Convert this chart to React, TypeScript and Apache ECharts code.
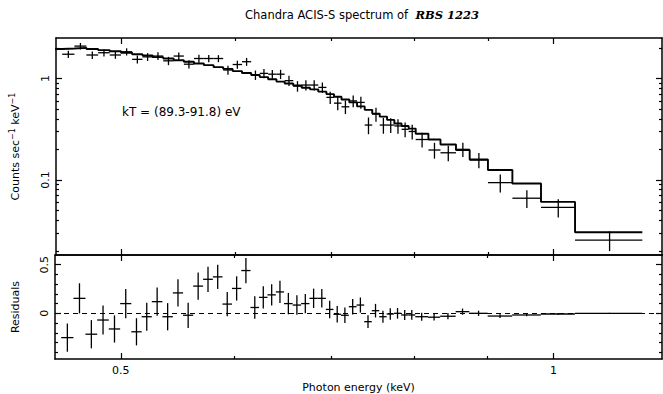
import React, { useEffect, useRef } from "react";
import * as echarts from "echarts";

// ---- data ----
const binEdges = [
  0.4545, 0.4635, 0.4725, 0.4815, 0.4905, 0.4995, 0.5085, 0.517, 0.5255, 0.5345,
  0.5435, 0.5525, 0.5615, 0.5705, 0.5795, 0.5885, 0.5975, 0.6065, 0.6155, 0.624,
  0.6325, 0.641, 0.6495, 0.6585, 0.6675, 0.6765, 0.6855, 0.6945, 0.703, 0.7115,
  0.7205, 0.7295, 0.7385, 0.7475, 0.7565, 0.7655, 0.7745, 0.7835, 0.7925, 0.8015,
  0.818, 0.834, 0.855, 0.874, 0.9, 0.936, 0.98, 1.035, 1.153,
];
const countsData = [
  1.73, 2.08, 1.7, 1.79, 1.7, 1.83, 1.54, 1.63, 1.66, 1.49,
  1.66, 1.38, 1.57, 1.57, 1.57, 1.21, 1.37, 1.46, 1.08, 1.12,
  1.1, 1.1, 0.95, 0.84, 0.86, 0.86, 0.815, 0.65, 0.57, 0.525,
  0.6, 0.58, 0.347, 0.445, 0.347, 0.347, 0.34, 0.315, 0.3, 0.25,
  0.197, 0.185, 0.2, 0.157, 0.094, 0.066, 0.0536, 0.0255,
];
const countsErr = [
  0.145, 0.155, 0.145, 0.15, 0.14, 0.15, 0.14, 0.145, 0.145, 0.14,
  0.14, 0.13, 0.14, 0.13, 0.125, 0.125, 0.125, 0.13, 0.115, 0.115,
  0.11, 0.115, 0.11, 0.1, 0.1, 0.1, 0.095, 0.09, 0.085, 0.08,
  0.08, 0.078, 0.065, 0.07, 0.062, 0.058, 0.055, 0.052, 0.05, 0.042,
  0.035, 0.032, 0.032, 0.027, 0.019, 0.013, 0.011, 0.0056,
];
const modelCounts = [
  1.97, 2.0, 1.95, 1.9, 1.85, 1.79, 1.73, 1.68, 1.62, 1.57,
  1.51, 1.46, 1.4, 1.35, 1.29, 1.24, 1.18, 1.13, 1.08, 1.03,
  0.98, 0.93, 0.89, 0.85, 0.81, 0.78, 0.74, 0.7, 0.66, 0.62,
  0.58, 0.53, 0.49, 0.45, 0.42, 0.39, 0.36, 0.34, 0.32, 0.285,
  0.25, 0.223, 0.197, 0.159, 0.125, 0.092, 0.0607, 0.0305,
];
const modelLeadIn = [0.4455, 1.95];
const residuals = [
  -0.25, 0.154, -0.215, -0.069, -0.161, 0.1, -0.19, -0.035, 0.12, -0.035,
  0.21, -0.02, 0.28, 0.35, 0.375, 0.095, 0.256, 0.44, 0.06, 0.164,
  0.19, 0.22, 0.1, 0.085, 0.1, 0.154, 0.154, 0.04, -0.01, -0.02,
  0.068, 0.085, -0.086, 0.027, -0.035, -0.007, 0.0, -0.017, -0.017, -0.035,
  -0.04, -0.03, 0.017, 0.0, -0.028, -0.017, -0.007, 0.0,
];

const xMajorTicks = [0.5, 1];
const xMinorTicks = [0.6, 0.7, 0.8, 0.9];
const countMajorTicks = [0.1, 1];
const countMinorTicks = [0.02, 0.03, 0.04, 0.05, 0.06, 0.07, 0.08, 0.09, 0.2, 0.3, 0.4, 0.5, 0.6, 0.7, 0.8, 0.9, 2];
const residMajorTicks = [0, 0.5];
const residMinorTicks = [-0.4, -0.3, -0.2, -0.1, 0.1, 0.2, 0.3, 0.4];

const energyRange = [0.45, 1.19];
const countRange = [0.0182, 2.5];
const residRange = [-0.47, 0.6];

const FONT = '"DejaVu Sans", "Liberation Sans", Arial, sans-serif';
const MAJOR = 6;
const MINOR = 3;

const fmt = (v: number) => String(+(+v).toFixed(3));

function xAxisDef(gridIndex: number, position: string, ticks: number[], len: number, line: boolean, extra: any = {}) {
  return {
    type: "log",
    logBase: 10,
    gridIndex,
    position,
    min: energyRange[0],
    max: energyRange[1],
    axisLine: { show: line, onZero: false, lineStyle: { color: "#000", width: 1.5 } },
    axisTick: { show: true, inside: true, length: len, customValues: ticks, lineStyle: { color: "#000", width: 1.2 } },
    axisLabel: { show: false },
    splitLine: { show: false },
    minorTick: { show: false },
    minorSplitLine: { show: false },
    ...extra,
  };
}

function yAxisDef(type: string, gridIndex: number, position: string, range: number[], ticks: number[], len: number, line: boolean, extra: any = {}) {
  const base: any = {
    type,
    gridIndex,
    position,
    min: range[0],
    max: range[1],
    axisLine: { show: line, onZero: false, lineStyle: { color: "#000", width: 1.5 } },
    axisTick: { show: true, inside: true, length: len, customValues: ticks, lineStyle: { color: "#000", width: 1.2 } },
    axisLabel: { show: false },
    splitLine: { show: false },
    minorTick: { show: false },
    minorSplitLine: { show: false },
    ...extra,
  };
  if (type === "log") base.logBase = 10;
  return base;
}

function crossRenderer(params: any, api: any) {
  const lo = api.value(0);
  const hi = api.value(1);
  const v = api.value(2);
  const e = api.value(3);
  const xc = (lo + hi) / 2;
  const pL = api.coord([lo, v]);
  const pR = api.coord([hi, v]);
  const pT = api.coord([xc, v + e]);
  const pB = api.coord([xc, v - e]);
  const style = { stroke: "#000", lineWidth: 1.3 };
  return {
    type: "group",
    children: [
      { type: "line", shape: { x1: pL[0], y1: pL[1], x2: pR[0], y2: pR[1] }, style },
      { type: "line", shape: { x1: pT[0], y1: pT[1], x2: pB[0], y2: pB[1] }, style },
    ],
  };
}

export default function App() {
  const ref = useRef<HTMLDivElement>(null);

  useEffect(() => {
    if (!ref.current) return;
    const chart = echarts.init(ref.current, undefined, { renderer: "svg" });

    const bins = countsData.map((_, i) => [binEdges[i], binEdges[i + 1]]);
    const dataCrosses = countsData.map((v, i) => [bins[i][0], bins[i][1], v, countsErr[i]]);
    const residCrosses = residuals.map((v, i) => [bins[i][0], bins[i][1], v, countsErr[i]]);
    const modelLine: number[][] = [[modelLeadIn[0], modelLeadIn[1]]];
    modelCounts.forEach((m, i) => modelLine.push([binEdges[i], m]));
    modelLine.push([binEdges[binEdges.length - 1], modelCounts[modelCounts.length - 1]]);

    const labelStyle = { color: "#000", fontSize: 11, fontFamily: FONT };

    const option: any = {
      animation: false,
      backgroundColor: "#fff",
      textStyle: { fontFamily: FONT },
      grid: [
        { left: 55, right: 1, top: 38, height: 217 },
        { left: 55, right: 1, top: 255, height: 104 },
      ],
      xAxis: [
        xAxisDef(0, "bottom", xMajorTicks, MAJOR, true),
        xAxisDef(0, "top", xMajorTicks, MAJOR, true),
        xAxisDef(0, "bottom", xMinorTicks, MINOR, false),
        xAxisDef(0, "top", xMinorTicks, MINOR, false),
        xAxisDef(1, "bottom", xMajorTicks, MAJOR, true, {
          axisLabel: { show: true, customValues: xMajorTicks, formatter: fmt, margin: 6, ...labelStyle },
          name: "Photon energy (keV)",
          nameLocation: "middle",
          nameGap: 23,
          nameTextStyle: { ...labelStyle },
        }),
        xAxisDef(1, "top", xMajorTicks, MAJOR, true),
        xAxisDef(1, "bottom", xMinorTicks, MINOR, false),
        xAxisDef(1, "top", xMinorTicks, MINOR, false),
      ],
      yAxis: [
        yAxisDef("log", 0, "left", countRange, countMajorTicks, MAJOR, true, {
          axisLabel: { show: true, customValues: countMajorTicks, formatter: fmt, rotate: 90, margin: 5, ...labelStyle },
          name: "Counts sec{s|\u22121} keV{s|\u22121}",
          nameLocation: "middle",
          nameGap: 34,
          nameRotate: 90,
          nameTextStyle: {
            ...labelStyle,
            lineHeight: 14,
            rich: { s: { fontSize: 8, lineHeight: 14, verticalAlign: "top", color: "#000", fontFamily: FONT } },
          },
        }),
        yAxisDef("log", 0, "right", countRange, countMajorTicks, MAJOR, true),
        yAxisDef("log", 0, "left", countRange, countMinorTicks, MINOR, false),
        yAxisDef("log", 0, "right", countRange, countMinorTicks, MINOR, false),
        yAxisDef("value", 1, "left", residRange, residMajorTicks, MAJOR, true, {
          axisLabel: { show: true, customValues: residMajorTicks, formatter: fmt, rotate: 90, margin: 5, ...labelStyle },
          name: "Residuals",
          nameLocation: "middle",
          nameGap: 34,
          nameRotate: 90,
          nameTextStyle: { ...labelStyle },
        }),
        yAxisDef("value", 1, "right", residRange, residMajorTicks, MAJOR, true),
        yAxisDef("value", 1, "left", residRange, residMinorTicks, MINOR, false),
        yAxisDef("value", 1, "right", residRange, residMinorTicks, MINOR, false),
      ],
      graphic: [
        {
          type: "text",
          x: 362,
          y: 15,
          style: {
            text: "Chandra ACIS-S spectrum of  {b|RBS 1223}",
            fill: "#000",
            font: `11.5px ${FONT}`,
            textAlign: "center",
            textVerticalAlign: "middle",
            rich: {
              b: { fontFamily: '"DejaVu Serif", "Liberation Serif", serif', fontWeight: "bold", fontStyle: "italic", fontSize: 11.5, fill: "#000" },
            },
          },
        },
        {
          type: "text",
          x: 122,
          y: 112,
          style: {
            text: "kT = (89.3-91.8) eV",
            fill: "#000",
            font: `12px ${FONT}`,
            textAlign: "left",
            textVerticalAlign: "middle",
          },
        },
      ],
      series: [
        {
          type: "line",
          name: "model",
          xAxisIndex: 0,
          yAxisIndex: 0,
          data: modelLine,
          step: "end",
          showSymbol: false,
          symbol: "none",
          clip: true,
          lineStyle: { color: "#000", width: 1.9 },
          z: 3,
        },
        {
          type: "custom",
          name: "data",
          xAxisIndex: 0,
          yAxisIndex: 0,
          dimensions: ["lo", "hi", "value", "err"],
          encode: { x: [0, 1], y: 2 },
          data: dataCrosses,
          renderItem: crossRenderer,
          z: 4,
        },
        {
          type: "custom",
          name: "residuals",
          xAxisIndex: 4,
          yAxisIndex: 4,
          dimensions: ["lo", "hi", "value", "err"],
          encode: { x: [0, 1], y: 2 },
          data: residCrosses,
          renderItem: crossRenderer,
          z: 4,
          markLine: {
            silent: true,
            symbol: "none",
            label: { show: false },
            lineStyle: { color: "#000", type: [5, 4], width: 1.2 },
            data: [{ yAxis: 0 }],
          },
        },
      ],
    };

    chart.setOption(option);
    return () => chart.dispose();
  }, []);

  return (
    <div
      ref={ref}
      style={{ position: "fixed", left: 0, top: 0, width: 663, height: 394, background: "#fff" }}
    />
  );
}
